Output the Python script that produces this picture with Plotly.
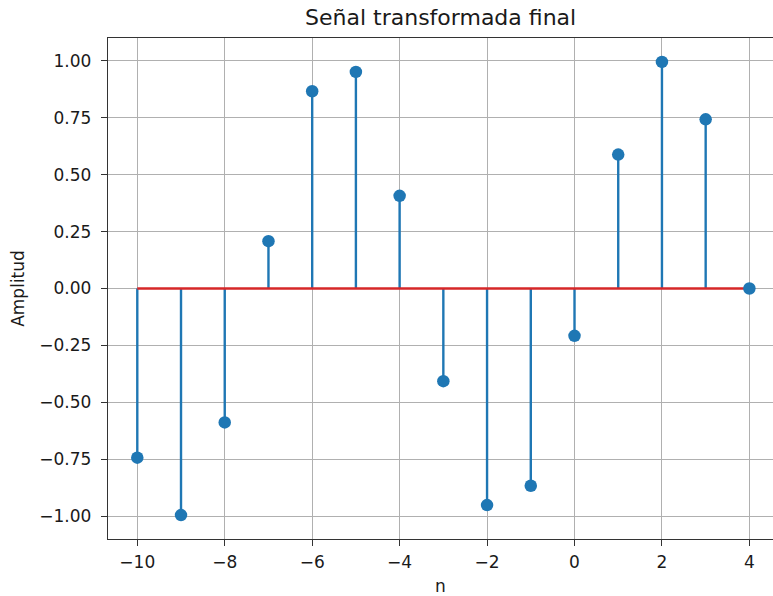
import plotly.graph_objects as go

# Discrete signal samples
n = [-10, -9, -8, -7, -6, -5, -4, -3, -2, -1, 0, 1, 2, 3, 4]
amplitud = [-0.743, -0.995, -0.588, 0.208, 0.866, 0.951, 0.407, -0.407,
            -0.951, -0.866, -0.208, 0.588, 0.995, 0.743, 0.0]

y_ticks = [-1.00, -0.75, -0.50, -0.25, 0.00, 0.25, 0.50, 0.75, 1.00]
x_ticks = [-10, -8, -6, -4, -2, 0, 2, 4]

BLUE = "#1f77b4"
RED = "#d62728"
FONT = "DejaVu Sans"
TEXT = "#1a1a1a"

# vertical stems from 0 to each sample, separated by gaps
stem_x, stem_y = [], []
for xi, yi in zip(n, amplitud):
    stem_x += [xi, xi, None]
    stem_y += [0, yi, None]

fig = go.Figure()
fig.add_trace(go.Scatter(x=stem_x, y=stem_y, mode="lines",
                         line=dict(color=BLUE, width=2.4),
                         hoverinfo="skip", showlegend=False))
fig.add_trace(go.Scatter(x=[n[0], n[-1]], y=[0, 0], mode="lines",
                         line=dict(color=RED, width=2.4),
                         hoverinfo="skip", showlegend=False))
fig.add_trace(go.Scatter(x=n, y=amplitud, mode="markers",
                         marker=dict(color=BLUE, size=12.5),
                         showlegend=False))

axis_common = dict(
    showgrid=True, gridcolor="#b0b0b0", gridwidth=1.2,
    zeroline=False, showline=True, linecolor="#333333", linewidth=1.4,
    ticks="outside", ticklen=6, tickwidth=1.4, tickcolor="#333333",
    tickfont=dict(family=FONT, size=17, color=TEXT),
)

fig.update_layout(
    width=773, height=596,
    margin=dict(l=108, r=0, t=38, b=57),
    paper_bgcolor="white", plot_bgcolor="white",
    font=dict(family=FONT, color=TEXT),
    title=dict(text="Señal transformada final", x=0.57, xanchor="center",
               y=1 - 17 / 596, yanchor="middle", yref="container",
               font=dict(family=FONT, size=22, color=TEXT)),
    xaxis=dict(range=[-10.67, 4.54], tickvals=x_ticks,
               ticktext=[str(v).replace("-", "\u2212") for v in x_ticks],
               mirror=True, ticklabelstandoff=1,
               title=dict(text="n", standoff=10,
                          font=dict(family=FONT, size=17, color=TEXT)),
               **axis_common),
    yaxis=dict(range=[-1.1, 1.1], tickvals=y_ticks,
               ticktext=[f"{v:.2f}".replace("-", "\u2212") for v in y_ticks],
               ticklabelstandoff=6,
               title=dict(text="Amplitud", standoff=10,
                          font=dict(family=FONT, size=17, color=TEXT)),
               **axis_common),
)

fig.write_html("out.html")
